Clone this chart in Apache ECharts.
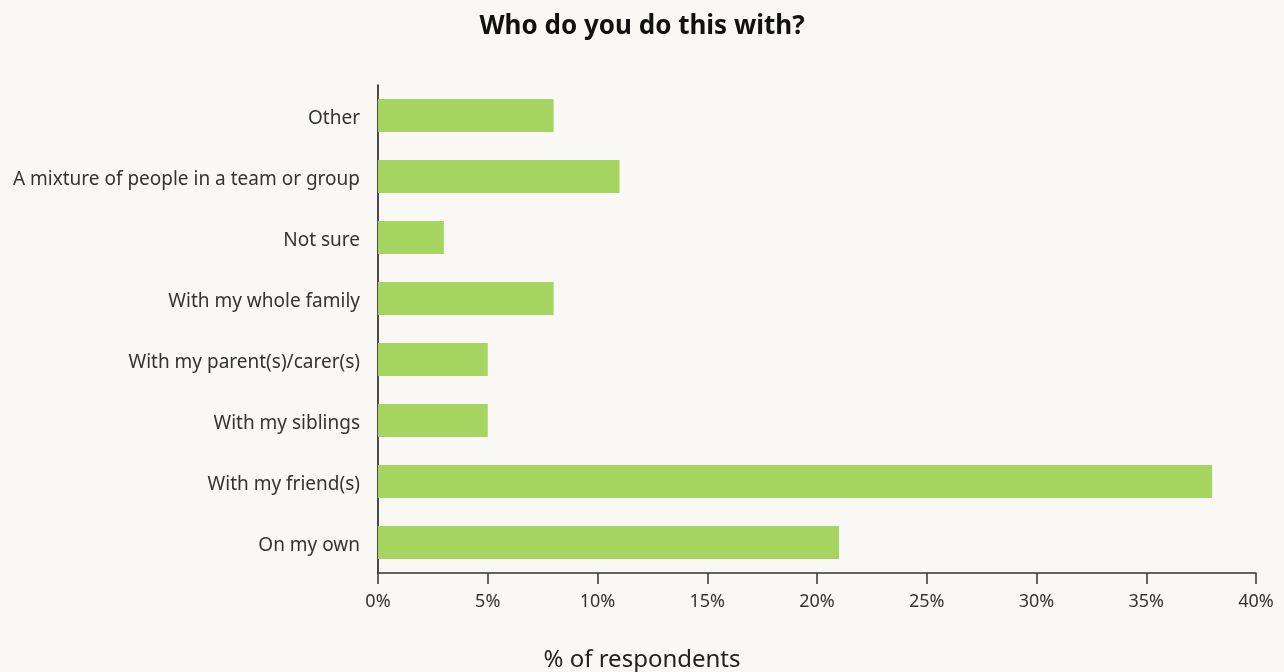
<!DOCTYPE html>
<html>
<head>
<meta charset="utf-8">
<script src="https://cdn.jsdelivr.net/npm/echarts@6/dist/echarts.min.js"></script>
<style>
  html, body { margin: 0; padding: 0; background: #f9f8f5; }
  #chart { width: 1284px; height: 672px; }
</style>
</head>
<body>
<div id="chart"></div>
<script>
// Survey answers, listed bottom to top as drawn on the category axis
const categories = [
  'On my own',
  'With my friend(s)',
  'With my siblings',
  'With my parent(s)/carer(s)',
  'With my whole family',
  'Not sure',
  'A mixture of people in a team or group',
  'Other'
];
const percentValues = [21, 38, 5, 5, 8, 3, 11, 8];
const axisTicks = [0, 5, 10, 15, 20, 25, 30, 35, 40];

const FONT = '"Noto Sans", "Open Sans", sans-serif';

const chart = echarts.init(document.getElementById('chart'));
chart.setOption({
  backgroundColor: '#f9f8f5',
  animation: false,
  textStyle: { fontFamily: FONT },
  title: [
    {
      text: 'Who do you do this with?',
      left: 'center',
      top: 9,
      textStyle: { fontSize: 26, fontWeight: 'bold', color: '#111', fontFamily: FONT }
    },
    {
      text: '% of respondents',
      left: 'center',
      top: 643,
      textStyle: { fontSize: 24, fontWeight: 'normal', color: '#222', fontFamily: FONT }
    }
  ],
  grid: { left: 378, right: 28, top: 85, bottom: 99, containLabel: false },
  xAxis: {
    type: 'value',
    min: axisTicks[0],
    max: axisTicks[axisTicks.length - 1],
    interval: axisTicks[1] - axisTicks[0],
    axisLine: { show: true, lineStyle: { color: '#333', width: 1.5 } },
    axisTick: { show: true, length: 11, lineStyle: { color: '#333', width: 1.5 } },
    axisLabel: { formatter: '{value}%', fontSize: 18, color: '#333', margin: 20 },
    splitLine: { show: false }
  },
  yAxis: {
    type: 'category',
    data: categories,
    axisLine: { show: true, lineStyle: { color: '#111', width: 1.5 } },
    axisTick: { show: false },
    axisLabel: { fontSize: 19, color: '#333', margin: 18, verticalAlign: 'top', lineHeight: 6 }
  },
  series: [{
    type: 'bar',
    data: percentValues,
    barWidth: 33,
    itemStyle: { color: '#a5d560' }
  }]
});
</script>
</body>
</html>
